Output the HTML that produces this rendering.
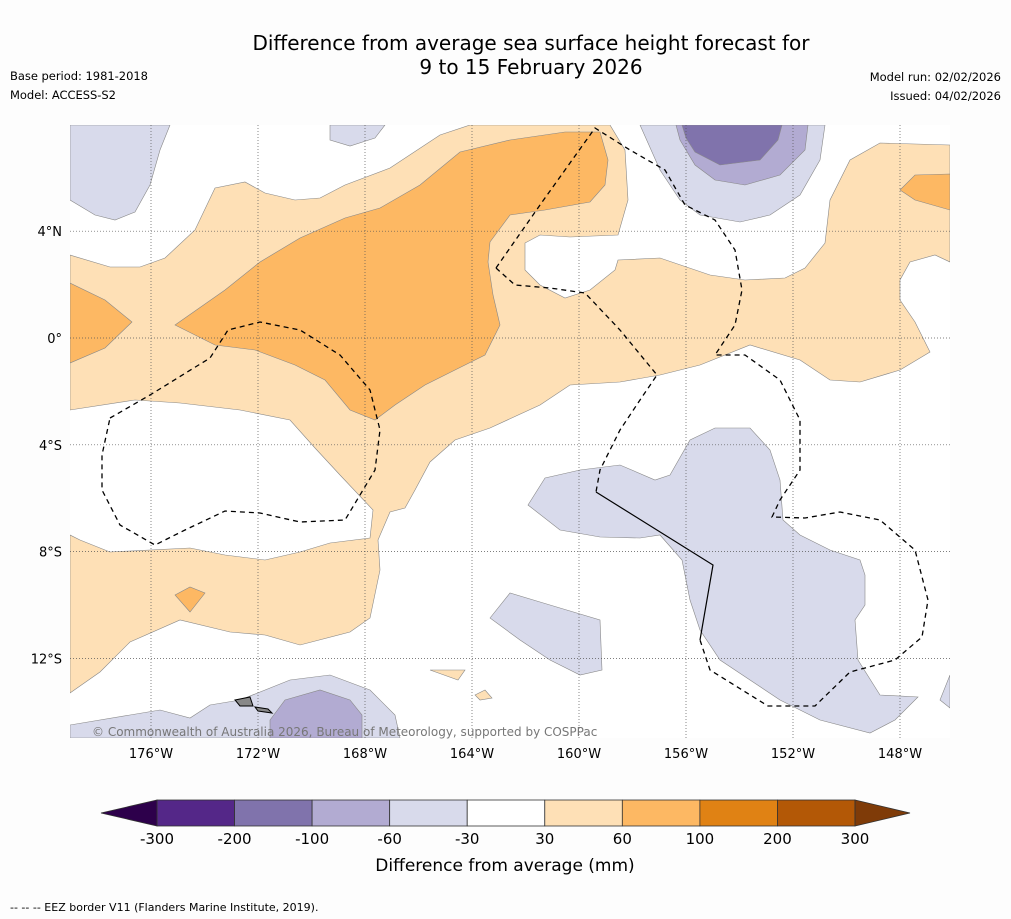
<!DOCTYPE html>
<html><head><meta charset="utf-8">
<style>
body{margin:0;background:#fdfdfd;font-family:"DejaVu Sans","Liberation Sans",sans-serif;}
svg{display:block}
</style></head>
<body>
<svg id="fig" width="1011" height="919" viewBox="0 0 1011 919">
<rect width="1011" height="919" fill="#fdfdfd"/>
<text x="531" y="50" font-size="20" text-anchor="middle">Difference from average sea surface height forecast for</text>
<text x="531" y="74" font-size="20" text-anchor="middle">9 to 15 February 2026</text>
<text x="10" y="80" font-size="11.5" textLength="138">Base period: 1981-2018</text>
<text x="10" y="99" font-size="11.5" textLength="106">Model: ACCESS-S2</text>
<text x="1001" y="81" font-size="11.5" text-anchor="end">Model run: 02/02/2026</text>
<text x="1001" y="100" font-size="11.5" text-anchor="end">Issued: 04/02/2026</text>

<g>
<clipPath id="mc"><rect x="70" y="125" width="880" height="613"/></clipPath>
<rect x="70" y="125" width="880" height="613" fill="#fff"/>
<g clip-path="url(#mc)" stroke="#888" stroke-width="0.6">
<polygon fill="#fee0b6" points="70,255 110,267 140,267 165,258 195,230 215,188 245,182 265,193 295,200 320,198 345,185 390,168 440,135 470,125 610,125 625,150 628,200 618,235 570,237 540,235 525,243 525,270 540,285 565,298 590,290 615,270 618,260 660,258 710,275 745,280 785,278 805,268 825,243 830,200 850,160 880,143 950,145 950,262 935,255 910,262 900,280 900,300 915,322 930,352 900,370 860,382 830,380 800,360 750,345 700,365 660,375 620,382 570,385 540,405 490,428 455,440 430,462 415,490 405,508 390,512 378,540 380,570 370,618 350,632 300,645 265,635 230,632 180,620 130,642 100,672 70,693 70,535 80,540 110,552 190,548 225,555 265,560 300,552 330,543 370,538 373,510 340,475 315,448 290,420 240,410 180,403 135,400 70,410"/>
<polygon fill="#fdb863" points="70,283 105,300 132,322 105,348 70,363"/>
<polygon fill="#fdb863" points="175,325 225,290 260,262 300,238 345,218 380,208 420,185 460,152 510,140 565,132 600,132 608,160 605,185 590,202 545,210 510,215 490,242 488,262 493,295 500,325 485,355 455,370 425,385 395,405 375,420 350,410 325,380 295,365 255,350 215,345"/>
<polygon fill="#fdb863" points="175,595 190,587 205,593 190,612"/>
<polygon fill="#fdb863" points="900,190 915,175 950,174 950,210 915,200"/>
<polygon fill="#fee0b6" points="430,670 465,670 458,680"/>
<polygon fill="#fee0b6" points="475,695 485,690 492,698 480,700"/>
<polygon fill="#d8daeb" points="70,125 170,125 160,150 150,185 135,212 115,220 95,215 70,200"/>
<polygon fill="#d8daeb" points="330,125 385,125 375,138 350,146 330,140"/>
<polygon fill="#d8daeb" points="640,125 825,125 820,160 800,195 770,215 740,222 700,215 680,200 660,170"/>
<polygon fill="#b2abd2" points="676,125 808,125 805,150 780,175 745,185 715,180 695,165 680,140"/>
<polygon fill="#8073ac" points="682,125 782,125 778,140 760,160 720,165 695,152 686,138"/>
<polygon fill="#d8daeb" points="528,505 545,478 580,470 620,465 655,480 670,475 690,440 715,428 750,428 770,450 780,480 783,520 800,535 830,550 860,560 865,575 865,605 855,620 858,660 880,695 918,697 895,720 870,733 820,720 780,700 750,680 720,660 700,630 690,600 682,560 660,535 640,538 600,537 560,530"/>
<polygon fill="#d8daeb" points="490,618 510,593 550,605 600,620 602,670 580,675 550,660 520,640"/>
<polygon fill="#d8daeb" points="940,700 950,675 950,708"/>
<polygon fill="#d8daeb" points="70,725 130,715 160,710 190,718 210,705 240,700 290,680 330,675 370,690 395,715 400,738 70,738"/>
<polygon fill="#b2abd2" points="270,720 285,700 320,690 350,700 362,715 362,738 270,738"/>
</g>
<g id="grid" stroke="#555" stroke-width="0.7" stroke-dasharray="1,2" fill="none"></g>
<g fill="none" stroke="#000" stroke-width="1.3" stroke-dasharray="5,4">
<path d="M110,418 L150,395 L210,358 L228,330 L260,322 L300,330 L340,355 L370,390 L380,430 L375,470 L345,520 L300,522 L260,513 L225,511 L185,530 L155,545 L120,525 L102,490 L102,455 Z"/>
<path d="M496,268 L540,205 L595,128 L630,150 L665,170 L685,205 L715,220 L735,250 L742,290 L735,325 L715,355 L745,355 L780,380 L800,420 L800,470 L780,500 L772,517 L805,518 L840,512 L880,520 L915,550 L928,600 L922,637 L895,660 L850,672 L815,706 L768,706 L710,670 L700,640"/>
<path d="M496,268 L515,285 L550,288 L585,293 L620,330 L657,375 L640,400 L620,430 L600,470 L596,492"/>
</g>
<path d="M596,492 L713,565 L700,640" fill="none" stroke="#000" stroke-width="1.2"/>
<polygon points="235,700 250,697 253,706 240,706" fill="#888" stroke="#000"/>
<polygon points="255,707 268,709 272,713 258,711" fill="#888" stroke="#000"/>
<text x="92" y="736" font-size="12" fill="#777">© Commonwealth of Australia 2026, Bureau of Meteorology, supported by COSPPac</text>
<g id="axislabels" font-size="13"></g>
</g>

<g id="cbar"></g>
<text x="505" y="871" font-size="17" text-anchor="middle">Difference from average (mm)</text>
<text x="10" y="911" font-size="11">--  --  -- EEZ border V11 (Flanders Marine Institute, 2019).</text>
</svg>
<script>
const lonTicks=[-176,-172,-168,-164,-160,-156,-152,-148];
const latTicks=[4,0,-4,-8,-12];
const cbBounds=[-300,-200,-100,-60,-30,30,60,100,200,300];
const cbColors=["#542788","#8073ac","#b2abd2","#d8daeb","#ffffff","#fee0b6","#fdb863","#e08214","#b35806"];
const cbExtend=["#2d004b","#7f3b08"];
const NS="http://www.w3.org/2000/svg";
const lonX=l=>151+(l+176)*26.75;
const latY=a=>338-a*26.7;
function mk(t,p,a){const e=document.createElementNS(NS,t);for(const k in a)e.setAttribute(k,a[k]);p.appendChild(e);return e;}
const grid=document.getElementById('grid'),al=document.getElementById('axislabels');
lonTicks.forEach(l=>{const x=lonX(l);
 const g=mk('line',grid,{x1:x,x2:x,y1:125,y2:738});
 
 
 const t=mk('text',al,{x:x,y:758,'text-anchor':'middle'});t.textContent=Math.abs(l)+'°W';
 
 });
latTicks.forEach(a=>{const y=latY(a);
 const g=mk('line',grid,{x1:70,x2:950,y1:y,y2:y});
 
 
 const t=mk('text',al,{x:62,y:y+5,'text-anchor':'end'});t.textContent=a===0?'0°':Math.abs(a)+'°'+(a>0?'N':'S');
 
 });
const cb=document.getElementById('cbar');
const x0=157,x1=855,y0=800,h=26,n=cbColors.length,w=(x1-x0)/n;
const cx=i=>x0+i*w;
cbColors.forEach((c,i)=>{const r=mk('rect',cb,{x:cx(i),y:y0,width:w,height:h,fill:c,stroke:'#333','stroke-width':0.8});
 
 });
const lt=mk('polygon',cb,{points:`${x0},${y0} ${x0},${y0+h} 101,${y0+h/2}`,fill:cbExtend[0],stroke:'#333','stroke-width':0.8});


const rt=mk('polygon',cb,{points:`${x1},${y0} ${x1},${y0+h} 910,${y0+h/2}`,fill:cbExtend[1],stroke:'#333','stroke-width':0.8});


cbBounds.forEach((b,i)=>{const t=mk('text',cb,{x:cx(i),y:844,'text-anchor':'middle','font-size':15});t.textContent=b;
 
 });
</script>
</body></html>
